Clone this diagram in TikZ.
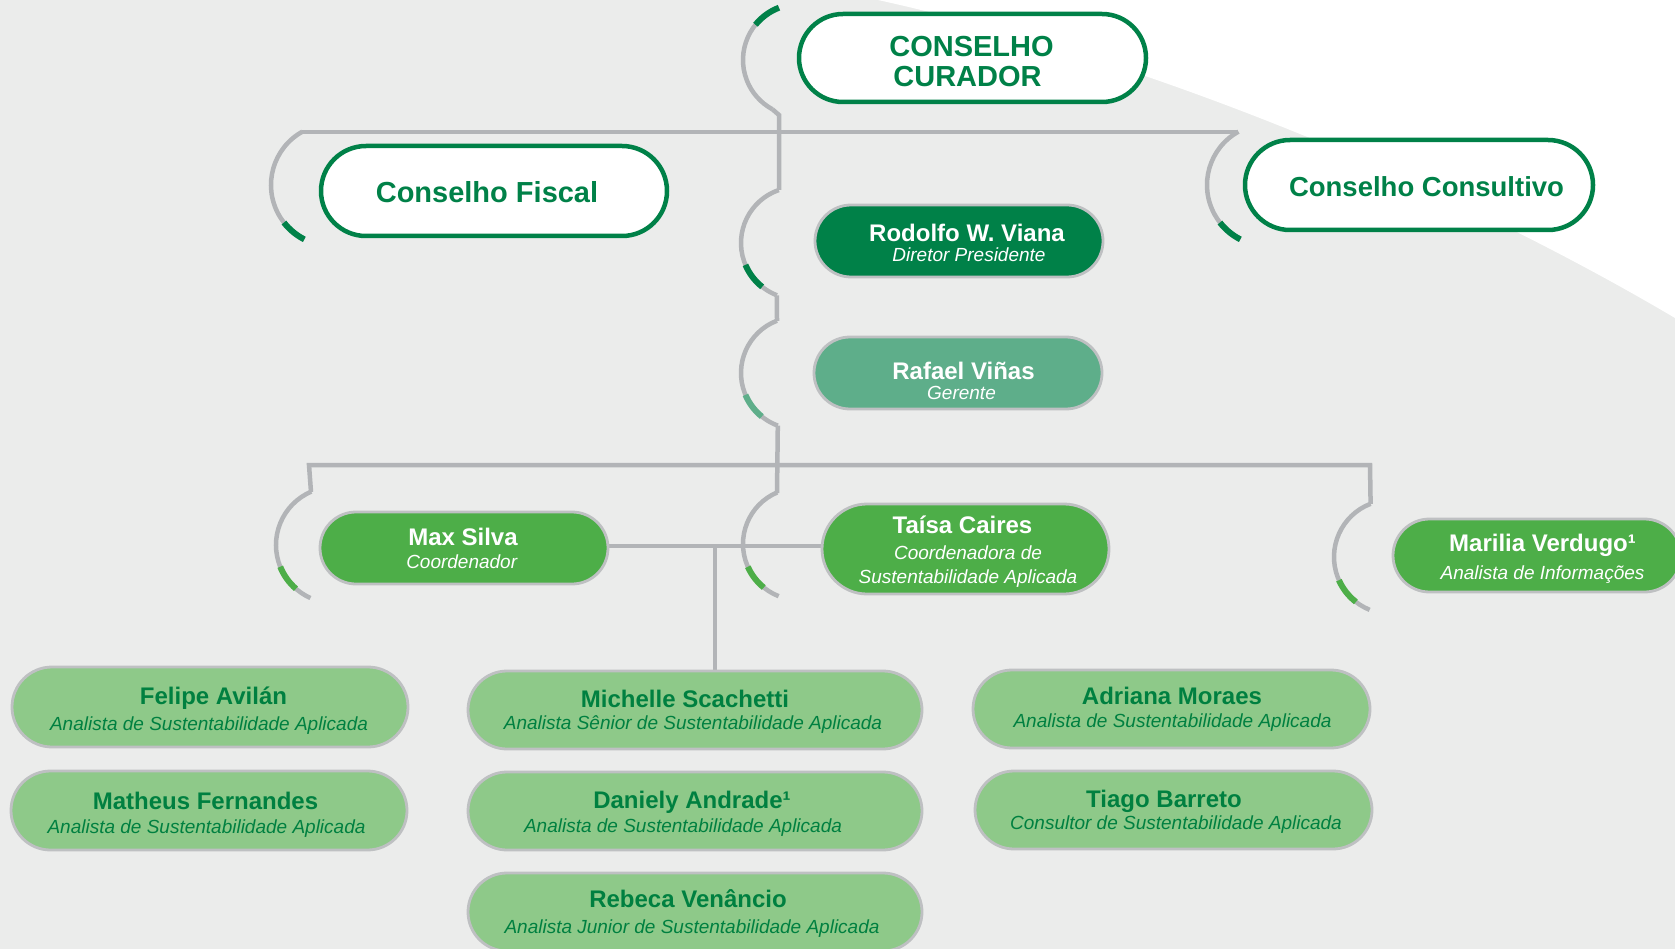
\documentclass[tikz,border=0pt]{standalone}
\usepackage{fontspec}
\setmainfont{Liberation Sans}
\usetikzlibrary{shapes.misc}
\pgfdeclarelayer{back}
\pgfdeclarelayer{links}
\pgfsetlayers{back,links,main}
\definecolor{bgc}{RGB}{235,236,235}
\definecolor{lineg}{RGB}{178,180,183}
\definecolor{dkg}{RGB}{0,129,72}
\definecolor{mdg}{RGB}{94,174,138}
\definecolor{brg}{RGB}{77,174,72}
\definecolor{ltg}{RGB}{142,201,137}
\definecolor{txg}{RGB}{0,128,64}
\definecolor{bord}{RGB}{190,192,194}
\newcommand{\orgarc}[5]{\draw[#5] (#1) ++(#3:#2) arc[start angle=#3,end angle=#4,radius=#2];}
\tikzset{
  gl/.style={draw=lineg, line width=4.5pt},
  gseg/.style={draw=#1, line width=6pt},
  wbox/.style={rounded rectangle, draw=dkg, line width=4.5pt, fill=white, inner sep=0pt},
  cbox/.style={rounded rectangle, draw=bord, line width=2.8pt, inner sep=0pt, fill=#1},
  bigtxt/.style={anchor=base, text=dkg, font=\bfseries\fontsize{#1}{#1}\selectfont},
  nm/.style={anchor=base, text=#1, font=\bfseries\fontsize{24}{28}\selectfont},
  rl/.style={anchor=base, text=#1, font=\itshape\fontsize{19}{23}\selectfont},
}
\begin{document}
\begin{tikzpicture}[x=1pt,y=1pt]
\useasboundingbox (0,0) rectangle (1675,-949);
\begin{pgfonlayer}{back}
\fill[bgc] (0,0) rectangle (1675,-949);
\fill[white] (878,0) .. controls (1150,-60) and (1450,-185) .. (1675,-318) -- (1675,0) -- cycle;
\end{pgfonlayer}

% ---- connectors ----
\coordinate (busL) at (302,-132);
\coordinate (busR) at (1238,-132);
\draw[gl] (busL) -- (busR);
% Conselho Curador bracket + spine
\orgarc{799,-60}{56}{111}{241.6}{gl}
\orgarc{799,-60}{56}{111}{141}{gseg=dkg}
\coordinate (sp1) at (772.4,-109.3);
\coordinate (sp2) at (779,-115);
\coordinate (sp3) at (779,-190);
\draw[gl] (sp1) -- (sp2) -- (sp3);
% Fiscal / Consultivo brackets
\orgarc{332,-185}{61}{119}{243}{gl}
\orgarc{332,-185}{61}{218}{243}{gseg=dkg}
\orgarc{1268,-185}{61}{119}{243}{gl}
\orgarc{1268,-185}{61}{218}{243}{gseg=dkg}
% Rodolfo bracket
\orgarc{797,-243}{56}{109}{249}{gl}
\orgarc{797,-243}{56}{203}{231.5}{gseg=dkg}
\coordinate (sp4) at (776.9,-295.3);
\coordinate (sp5) at (777,-321);
\draw[gl] (sp4) -- (sp5);
% Rafael bracket
\orgarc{797,-373}{56}{111}{250}{gl}
\orgarc{797,-373}{56}{203}{231}{gseg=mdg}
\coordinate (sp6) at (777.8,-425.6);
\coordinate (sp7) at (777,-493);
\draw[gl] (sp6) -- (sp7);
% second bus
\coordinate (b2a) at (311,-492);
\coordinate (b2L) at (309,-465);
\coordinate (b2R) at (1370,-465);
\coordinate (b2b) at (1370.6,-504);
\draw[gl] (b2a) -- (b2L) -- (b2R) -- (b2b);
% Max, Taisa, Marilia brackets
\orgarc{334,-545}{58}{113}{246}{gl}
\orgarc{334,-545}{58}{202}{229}{gseg=brg}
\orgarc{799,-544}{56}{113}{248.7}{gl}
\orgarc{799,-544}{56}{204}{231}{gseg=brg}
\orgarc{1391,-557}{57}{111}{248}{gl}
\orgarc{1391,-557}{57}{204}{232}{gseg=brg}

% ---- boxes ----
\node[wbox, minimum width=347, minimum height=88] (cur) at (972.5,-58) {};
\node[wbox, minimum width=346, minimum height=90] (fis) at (494,-191) {};
\node[wbox, minimum width=348, minimum height=90] (con) at (1419,-185) {};
\node[cbox=dkg, minimum width=288, minimum height=72] (rod) at (959,-241) {};
\node[cbox=mdg, minimum width=288, minimum height=72] (raf) at (958,-373) {};
\node[cbox=brg, minimum width=288, minimum height=72] (max) at (464,-548) {};
\node[cbox=brg, minimum width=287, minimum height=90] (tai) at (965.5,-549) {};
\node[cbox=brg, minimum width=288, minimum height=73] (mar) at (1537,-555.5) {};
\node[cbox=ltg, minimum width=396, minimum height=80] (fel) at (210,-707) {};
\node[cbox=ltg, minimum width=396, minimum height=79] (mat) at (209,-810.5) {};
\node[cbox=ltg, minimum width=454, minimum height=78] (mic) at (695,-710) {};
\node[cbox=ltg, minimum width=454, minimum height=78] (dan) at (695,-811) {};
\node[cbox=ltg, minimum width=454, minimum height=78] (reb) at (695,-912) {};
\node[cbox=ltg, minimum width=397, minimum height=78] (adr) at (1171.5,-709) {};
\node[cbox=ltg, minimum width=397, minimum height=78] (tia) at (1173.5,-810) {};

% Max - Taisa link and drop to Michelle (behind the boxes)
\begin{pgfonlayer}{links}
\coordinate (jn) at (715,-546);
\draw[gl] (max.east |- jn) -- (tai.west |- jn);
\draw[gl] (jn) -- (jn |- mic.north);
\end{pgfonlayer}

% ---- texts ----
\node[bigtxt=29] (t1) at (971.5,-56.7) {CONSELHO};
\node[bigtxt=29] (t2) at (967.5,-87) {CURADOR};
\node[bigtxt=29] (t3) at (487,-202.7) {Conselho Fiscal};
\node[bigtxt=27.5] (t4) at (1426.5,-197) {Conselho Consultivo};

\node[nm=white] (n1) at (967,-242) {Rodolfo W. Viana};
\node[rl=white] (r1) at (969,-262) {Diretor Presidente};
\node[nm=white] (n2) at (963.5,-379) {Rafael Viñas};
\node[rl=white] (r2) at (961.5,-399) {Gerente};
\node[nm=white] (n3) at (463,-545) {Max Silva};
\node[rl=white] (r3) at (461.7,-568) {Coordenador};
\node[nm=white] (n4) at (962.5,-533) {Taísa Caires};
\node[rl=white] (r4a) at (968,-559) {Coordenadora de};
\node[rl=white] (r4b) at (968,-583) {Sustentabilidade Aplicada};
\node[nm=white] (n5) at (1542.5,-551) {Marilia Verdugo¹};
\node[rl=white] (r5) at (1542.5,-579) {Analista de Informações};

\node[nm=txg] (n6) at (213.5,-704) {Felipe Avilán};
\node[rl=txg] (r6) at (209,-730) {Analista de Sustentabilidade Aplicada};
\node[nm=txg] (n7) at (205.5,-809) {Matheus Fernandes};
\node[rl=txg] (r7) at (206.5,-833) {Analista de Sustentabilidade Aplicada};
\node[nm=txg] (n8) at (685,-707) {Michelle Scachetti};
\node[rl=txg] (r8) at (693,-729) {Analista Sênior de Sustentabilidade Aplicada};
\node[nm=txg] (n9) at (692,-808) {Daniely Andrade¹};
\node[rl=txg] (r9) at (683,-832) {Analista de Sustentabilidade Aplicada};
\node[nm=txg] (n10) at (688,-907) {Rebeca Venâncio};
\node[rl=txg] (r10) at (692,-933) {Analista Junior de Sustentabilidade Aplicada};
\node[nm=txg] (n11) at (1172,-704) {Adriana Moraes};
\node[rl=txg] (r11) at (1172.5,-727) {Analista de Sustentabilidade Aplicada};
\node[nm=txg] (n12) at (1164,-807) {Tiago Barreto};
\node[rl=txg] (r12) at (1176,-829) {Consultor de Sustentabilidade Aplicada};
\end{tikzpicture}
\end{document}
